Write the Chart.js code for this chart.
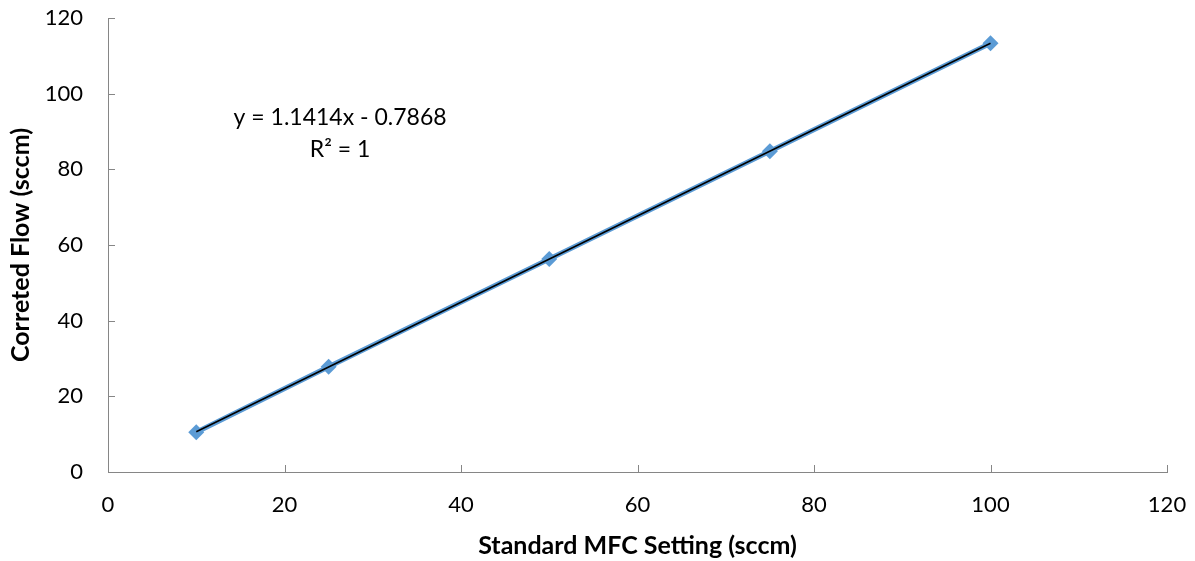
<!DOCTYPE html>
<html lang="en">
<head>
  <meta charset="UTF-8" />
  <title>MFC calibration</title>
  <script src="https://cdn.jsdelivr.net/npm/chart.js"></script>
  <style>
    html, body { margin: 0; padding: 0; background: #fff; }
    #wrap { width: 1195px; height: 561px; }
  </style>
</head>
<body>
  <div id="wrap"><canvas id="chart" width="1195" height="561"></canvas></div>

  <script>
    // values
    const mfcSetting = [10, 25, 50, 75, 100];
    const correctedFlow = [10.5, 27.8, 56.3, 84.8, 113.3];
    // linear trend end points (y = 1.1414x - 0.7868)
    const trendX = [10, 100];
    const trendY = [10.63, 113.35];
    const xTicks = [0, 20, 40, 60, 80, 100, 120];
    const yTicks = [0, 20, 40, 60, 80, 100, 120];
    const eqLines = ['y = 1.1414x - 0.7868', 'R² = 1'];

    const font = 'Lato, "Open Sans", sans-serif';
    const axisGray = '#868686';

    // Excel-style inward tick marks + the trendline label
    const extras = {
      id: 'extras',
      afterDraw(chart) {
        const ctx = chart.ctx;
        const xs = chart.scales.x, ys = chart.scales.y;
        ctx.save();
        ctx.strokeStyle = axisGray;
        ctx.lineWidth = 1;
        ctx.beginPath();
        xTicks.forEach(v => {
          const px = Math.round(xs.getPixelForValue(v)) + 0.5;
          ctx.moveTo(px, ys.bottom);
          ctx.lineTo(px, ys.bottom - 7);
        });
        yTicks.forEach(v => {
          const py = Math.round(ys.getPixelForValue(v)) + 0.5;
          ctx.moveTo(xs.left, py);
          ctx.lineTo(xs.left + 7, py);
        });
        ctx.stroke();

        ctx.fillStyle = '#000';
        ctx.font = '23px ' + font;
        ctx.textAlign = 'center';
        ctx.textBaseline = 'middle';
        const cx = xs.getPixelForValue(26.3);
        ctx.fillText(eqLines[0], cx, ys.getPixelForValue(93.8));
        ctx.fillText(eqLines[1], cx, ys.getPixelForValue(85.2));
        ctx.restore();
      }
    };

    new Chart(document.getElementById('chart'), {
      type: 'scatter',
      data: {
        datasets: [
          {
            label: 'Trend',
            data: trendX.map((x, i) => ({ x: x, y: trendY[i] })),
            showLine: true,
            borderColor: '#000',
            borderWidth: 1.6,
            pointRadius: 0,
            order: 0
          },
          {
            label: 'Corrected Flow',
            data: mfcSetting.map((x, i) => ({ x: x, y: correctedFlow[i] })),
            showLine: true,
            borderColor: '#5B9BD5',
            borderWidth: 5,
            backgroundColor: '#5B9BD5',
            pointStyle: 'rectRot',
            pointRadius: 8,
            pointBorderWidth: 0,
            order: 1
          }
        ]
      },
      options: {
        responsive: false,
        animation: false,
        layout: { padding: { top: 18, right: 28, left: 0, bottom: 0 } },
        plugins: { legend: { display: false }, tooltip: { enabled: false } },
        scales: {
          x: {
            type: 'linear',
            min: 0, max: 120,
            afterBuildTicks: s => { s.ticks = xTicks.map(v => ({ value: v })); },
            afterFit: s => { s.height = 89; s.paddingLeft = 0; s.paddingRight = 0; },
            grid: { display: false, drawTicks: false },
            border: { display: true, color: axisGray, width: 1 },
            ticks: { color: '#000', padding: 20, font: { family: font, size: 22 }, maxRotation: 0 },
            title: {
              display: true,
              text: 'Standard MFC Setting (sccm)',
              color: '#000',
              font: { family: font, size: 25, weight: 'bold' },
              padding: { top: 0, bottom: 0 }
            }
          },
          y: {
            type: 'linear',
            min: 0, max: 120,
            afterBuildTicks: s => { s.ticks = yTicks.map(v => ({ value: v })); },
            afterFit: s => { s.width = 108; s.paddingTop = 0; s.paddingBottom = 0; },
            grid: { display: false, drawTicks: false },
            border: { display: true, color: axisGray, width: 1 },
            ticks: { color: '#000', padding: 25, font: { family: font, size: 22 } },
            title: {
              display: true,
              text: 'Correted Flow (sccm)',
              color: '#000',
              font: { family: font, size: 25, weight: 'bold' },
              padding: { top: 6, bottom: 0 }
            }
          }
        }
      },
      plugins: [extras]
    });
  </script>
</body>
</html>
